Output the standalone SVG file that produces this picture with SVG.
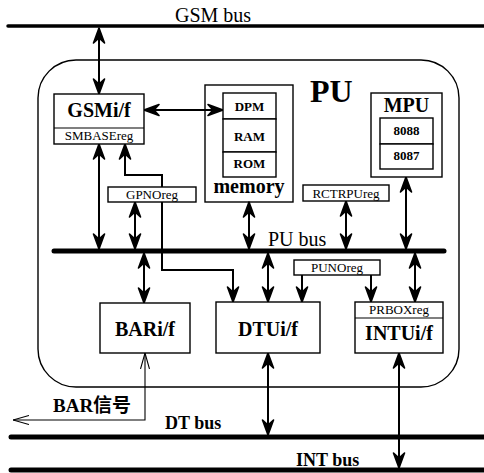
<svg xmlns="http://www.w3.org/2000/svg" width="484" height="473" viewBox="0 0 484 473" font-family="'Liberation Serif', 'Times New Roman', 'DejaVu Serif', 'Noto Sans CJK SC', serif">
<style>
.box{fill:#fff;stroke:#000;stroke-width:1.4}
.bus{stroke:#000;stroke-linecap:round;fill:none}
.con{stroke:#000;stroke-width:2;fill:none}
.dbl{marker-start:url(#ah);marker-end:url(#ah)}
.one{marker-end:url(#ah)}
.thin{stroke:#000;stroke-width:1.1;fill:none;marker-start:url(#oh);marker-end:url(#oh)}
.big{font-weight:bold;font-size:20px;text-anchor:middle}
.reg{font-size:13px;text-anchor:middle}
.lab{font-size:13px;text-anchor:middle;font-weight:bold}
</style>
<defs>
<marker id="ah" viewBox="-1 -1 18 14" refX="16" refY="6" markerWidth="18" markerHeight="14" markerUnits="userSpaceOnUse" orient="auto-start-reverse">
<path d="M16,6 L1,0.5 L6,6 L1,11.5 Z" fill="#000" stroke="#000" stroke-width="1.6" stroke-linejoin="round"/>
</marker>
<marker id="oh" viewBox="0 0 16 10" refX="16" refY="5" markerWidth="16" markerHeight="10" markerUnits="userSpaceOnUse" orient="auto-start-reverse">
<path d="M0,0.5 L16,5 L0,9.5" fill="none" stroke="#000" stroke-width="1.1"/>
</marker>
</defs>

<g id="pu">
<rect x="38" y="60" width="421" height="327" rx="38" ry="38" fill="none" stroke="#000" stroke-width="1.4"/>
<text x="310" y="102" font-size="32" font-weight="bold">PU</text>
</g>

<g id="buses">
<line class="bus" x1="8" y1="26" x2="484" y2="26" stroke-width="3.5"/>
<text x="175" y="22" font-size="20">GSM bus</text>
<line class="bus" x1="54" y1="251" x2="444" y2="251" stroke-width="5"/>
<text x="268" y="246" font-size="20">PU bus</text>
<line class="bus" x1="11" y1="437" x2="484" y2="437" stroke-width="5"/>
<text x="165" y="429" font-size="18" font-weight="bold">DT bus</text>
<line class="bus" x1="11" y1="470" x2="484" y2="470" stroke-width="5"/>
<text x="296" y="466" font-size="18" font-weight="bold">INT bus</text>
</g>

<g id="connectors">
<line class="con dbl" x1="99" y1="28" x2="99" y2="94"/>
<line class="con dbl" x1="144" y1="110" x2="223" y2="110"/>
<line class="con dbl" x1="99" y1="144" x2="99" y2="249"/>
<path class="con dbl" d="M233,302 L233,270 L162,270 L162,175 L125,175 L125,144"/>
<line class="con dbl" x1="135" y1="202" x2="135" y2="249"/>
<line class="con dbl" x1="144" y1="253" x2="144" y2="303"/>
<line class="con dbl" x1="249" y1="202" x2="249" y2="249"/>
<line class="con dbl" x1="268" y1="253" x2="268" y2="302"/>
<line class="con dbl" x1="346" y1="201" x2="346" y2="249"/>
<line class="con dbl" x1="406" y1="177" x2="406" y2="249"/>
<line class="con dbl" x1="415" y1="253" x2="415" y2="302"/>
<line class="con one" x1="302" y1="275" x2="302" y2="302"/>
<line class="con one" x1="371" y1="275" x2="371" y2="302"/>
<line class="con dbl" x1="268" y1="353" x2="268" y2="435"/>
<line class="con dbl" x1="399" y1="353" x2="399" y2="468"/>
<path class="thin" d="M145,353 L145,420 L13,420"/>
<text x="53" y="412" font-size="19" font-weight="bold">BAR信号</text>
</g>

<g id="gsmif">
<rect class="box" x="54" y="94" width="90" height="50"/>
<line x1="54" y1="128" x2="144" y2="128" stroke="#000" stroke-width="1.2"/>
<text class="big" x="99" y="117" font-size="22">GSMi/f</text>
<text class="reg" x="99" y="140">SMBASEreg</text>
</g>

<g id="memory">
<rect x="205" y="85" width="88" height="117" fill="none" stroke="#000" stroke-width="1.4"/>
<rect class="box" x="223" y="93" width="53" height="26"/>
<rect class="box" x="223" y="119" width="53" height="33"/>
<rect class="box" x="223" y="152" width="53" height="25"/>
<text class="lab" x="249.5" y="111">DPM</text>
<text class="lab" x="249.5" y="141">RAM</text>
<text class="lab" x="249.5" y="168">ROM</text>
<text class="big" x="249" y="193" font-size="19">memory</text>
</g>

<g id="mpu">
<rect class="box" x="371" y="93" width="71" height="84"/>
<rect class="box" x="380" y="118" width="53" height="26"/>
<rect class="box" x="380" y="144" width="53" height="25"/>
<text class="big" x="406.5" y="112" font-size="19">MPU</text>
<text class="lab" x="406.5" y="135" font-size="12">8088</text>
<text class="lab" x="406.5" y="160" font-size="12">8087</text>
</g>

<g id="gpnoreg">
<rect class="box" x="108" y="187" width="88" height="15"/>
<text class="reg" x="152" y="199">GPNOreg</text>
</g>

<g id="rctrpureg">
<rect class="box" x="303" y="185" width="86" height="16"/>
<text class="reg" x="346" y="198">RCTRPUreg</text>
</g>

<g id="punoreg">
<rect class="box" x="294" y="260" width="86" height="15"/>
<text class="reg" x="337" y="272">PUNOreg</text>
</g>

<g id="barif">
<rect class="box" x="100" y="303" width="90" height="50"/>
<text class="big" x="145" y="336">BARi/f</text>
</g>

<g id="dtuif">
<rect class="box" x="216" y="302" width="104" height="51"/>
<text class="big" x="268" y="336">DTUi/f</text>
</g>

<g id="intuif">
<rect class="box" x="355" y="302" width="88" height="51"/>
<line x1="355" y1="318" x2="443" y2="318" stroke="#000" stroke-width="1.2"/>
<text class="reg" x="399" y="314">PRBOXreg</text>
<text class="big" x="399" y="340">INTUi/f</text>
</g>
</svg>
